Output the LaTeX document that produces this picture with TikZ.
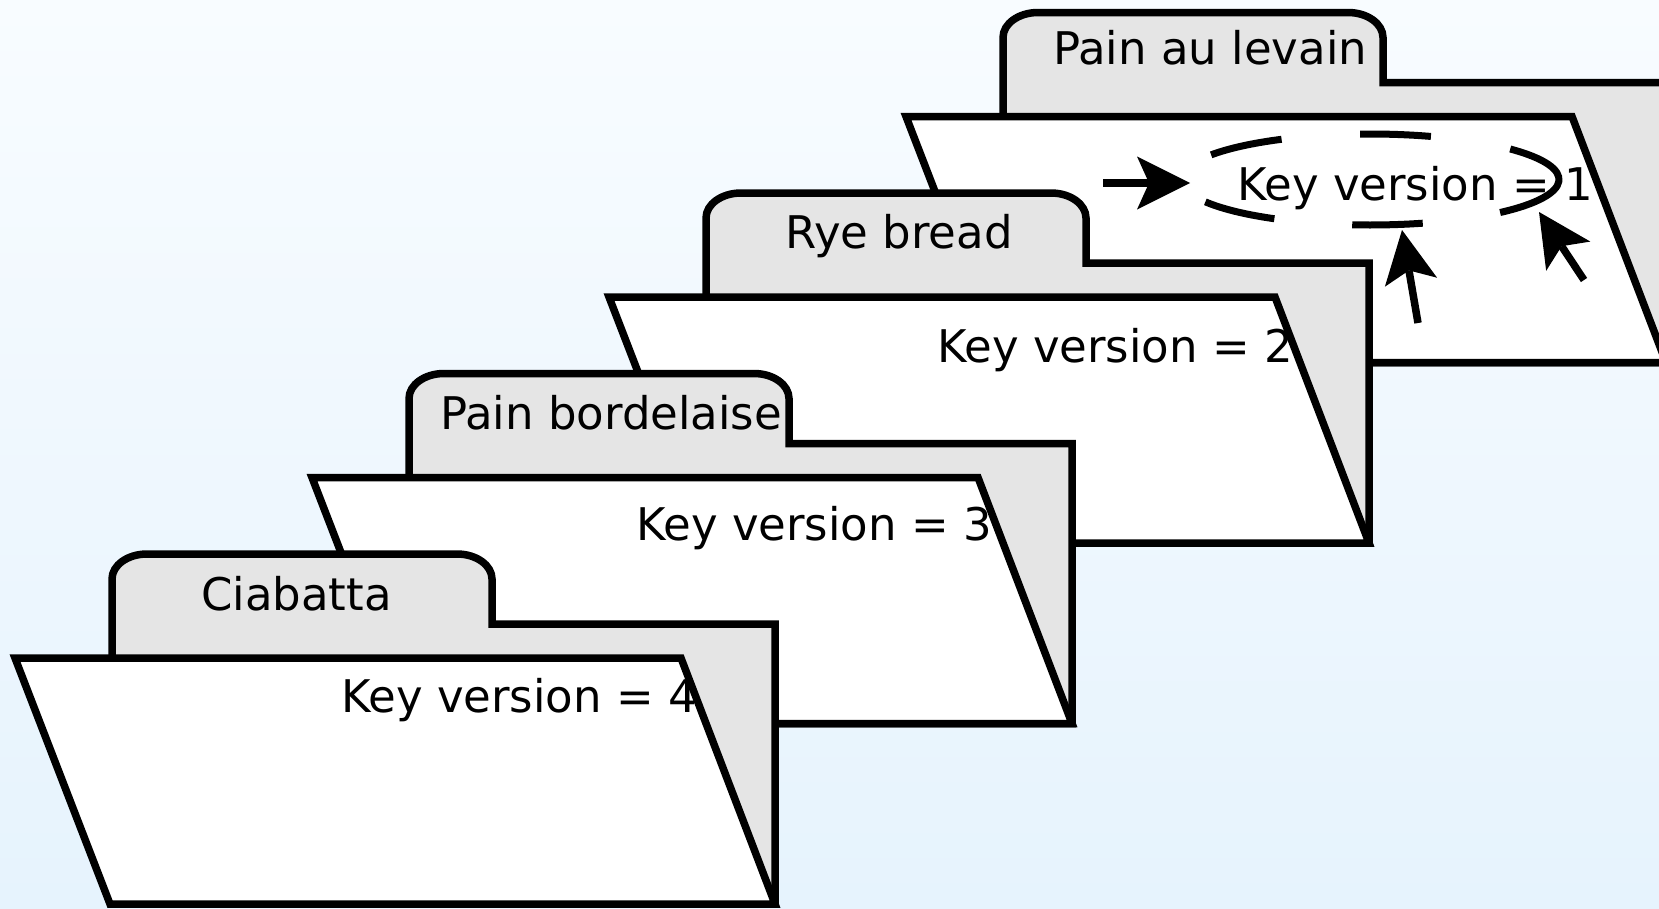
\documentclass[tikz,border=0pt]{standalone}
\usepackage{fontspec}
\setmainfont{DejaVu Sans}
\usetikzlibrary{arrows.meta}
\definecolor{bgtop}{RGB}{248,252,255}
\definecolor{bgbot}{RGB}{230,243,253}
\definecolor{tabgrey}{RGB}{229,229,229}
\tikzset{
  outline/.style={draw=black, line width=7.5pt, line join=miter},
  backpart/.style={outline, fill=tabgrey},
  frontpart/.style={outline, fill=white},
  txt/.style={anchor=base west, inner sep=0pt, font=\fontsize{45}{54}\selectfont},
  dashring/.style={draw=black, line width=7pt, line cap=butt},
  pointer/.style={draw=black, line width=7.5pt, -{Stealth[length=53pt,width=53pt,inset=12pt,line width=0pt]}},
}
\newcommand\folderbody{%
  \path[backpart] (112,659) -- (112,579) .. controls (112,565.2) and (127.7,554) .. (147,554)
     -- (457,554) .. controls (476.3,554) and (492,565.2) .. (492,579) -- (492,624) -- (775,624)
     -- (775,904) -- (112,904) -- cycle;
  \path[frontpart] (15,658) -- (681,658) -- (775,904) -- (110,904) -- cycle;
}
\newcommand\ringdash[2]{%
  \draw[dashring] (ring) ++(#1:189 and 45.5) arc[start angle=#1, end angle=#2, x radius=189, y radius=45.5];
}
\begin{document}
\begin{tikzpicture}[x=1pt,y=-1pt]
\useasboundingbox (0,0) rectangle (1659,908);
\shade[top color=bgtop,bottom color=bgbot] (0,0) rectangle (1659,908);
\clip (0,0) rectangle (1659,908);

% Folder 1: Pain au levain
\begin{scope}[shift={(891,-541.5)}]
  \folderbody
\end{scope}
\node[txt] (tab1) at (1053,64) {Pain au levain};
\node[txt] (key1) at (1237,200) {Key version = 1};
\coordinate (ring) at (1370,179.5);
\ringdash{-147.2}{-117.9}
\ringdash{-93}{-71.2}
\ringdash{-42.1}{46.5}
\ringdash{73.8}{95.4}
\ringdash{120.4}{150.6}
\coordinate (p1s) at (1103,183); \coordinate (p1e) at (1190,183);
\coordinate (p2s) at (1418,323); \coordinate (p2e) at (1402,230);
\coordinate (p3s) at (1584,280); \coordinate (p3e) at (1539,212);
\draw[pointer] (p1s) -- (p1e);
\draw[pointer] (p2s) -- (p2e);
\draw[pointer] (p3s) -- (p3e);

% Folder 2: Rye bread
\begin{scope}[shift={(594,-361)}]
  \folderbody
\end{scope}
\node[txt] (tab2) at (785,248) {Rye bread};
\node[txt] (key2) at (937,362) {Key version = 2};

% Folder 3: Pain bordelaise
\begin{scope}[shift={(297,-180.5)}]
  \folderbody
\end{scope}
\node[txt] (tab3) at (440,429) {Pain bordelaise};
\node[txt] (key3) at (636,540) {Key version = 3};

% Folder 4: Ciabatta
\folderbody
\node[txt] (tab4) at (201,610) {Ciabatta};
\node[txt] (key4) at (341,712) {Key version = 4};
\end{tikzpicture}
\end{document}
